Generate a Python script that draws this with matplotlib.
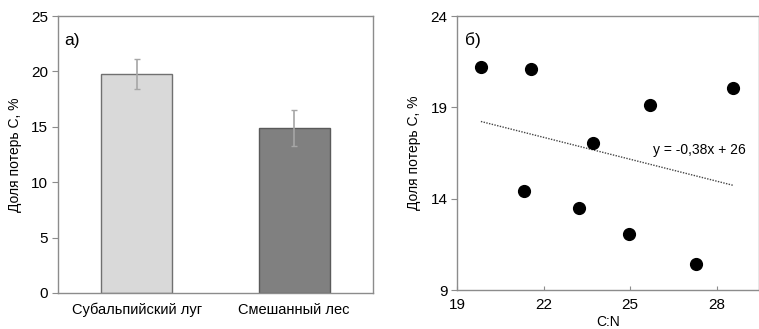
import numpy as np
import matplotlib
matplotlib.use("Agg")
import matplotlib.pyplot as plt

plt.rcParams['font.family'] = ['Liberation Sans', 'DejaVu Sans']

# Panel a data
categories = ["Субальпийский луг", "Смешанный лес"]
loss_mean = [19.75, 14.9]
loss_err = [1.35, 1.6]
bar_colors = ["#d9d9d9", "#808080"]

# Panel b data
cn_ratio = [19.82, 21.57, 28.58, 25.70, 23.72, 21.33, 23.24, 24.95, 27.28]
loss_pct = [21.23, 21.08, 20.04, 19.13, 17.03, 14.42, 13.51, 12.05, 10.45]
equation = "y = -0,38x + 26"

W, H = 759, 329
fig = plt.figure(figsize=(W / 100, H / 100), dpi=100)

spine_c = "#8c8c8c"
tick_fs = 11

# ---- Panel a ----
ax1 = fig.add_axes([58 / W, 1 - 293 / H, 315 / W, 277 / H])
x = np.arange(len(categories))
ax1.bar(x, loss_mean, width=0.45, color=bar_colors,
        edgecolor=["#707070", "#5a5a5a"], linewidth=1.0, zorder=2)
ax1.errorbar(x, loss_mean, yerr=loss_err, fmt='none', ecolor="#a6a6a6",
             elinewidth=1.2, capsize=2.5, capthick=1.0, zorder=3)
ax1.set_xlim(-0.5, 1.5)
ax1.set_ylim(0, 25)
ax1.set_yticks([0, 5, 10, 15, 20, 25])
ax1.set_xticks(x)
ax1.set_xticklabels(categories)
ax1.tick_params(axis='x', length=0, pad=7, labelsize=10.5, colors="#000000")
ax1.tick_params(axis='y', length=4, direction='out', color=spine_c,
                labelsize=tick_fs, pad=3)
ax1.set_ylabel("Доля потерь С, %", fontsize=10, labelpad=7)
for s in ax1.spines.values():
    s.set_color(spine_c)
    s.set_linewidth(1.0)
ax1.text(0.02, 0.94, "а)", transform=ax1.transAxes, fontsize=12.5,
         va='top', ha='left')

# ---- Panel b ----
ax2 = fig.add_axes([457.3 / W, 1 - 290 / H, (758.5 - 457.3) / W, 274 / H])
ax2.scatter(cn_ratio, loss_pct, s=72, color="black", zorder=3)
coef = np.polyfit(cn_ratio, loss_pct, 1)
xl = np.array([min(cn_ratio), max(cn_ratio)])
ax2.plot(xl, np.polyval(coef, xl), linestyle=(0, (1, 1)), color="#444444",
         linewidth=1.0, zorder=2)
ax2.text(25.8, 16.67, equation, fontsize=10, va='center', ha='left')
ax2.set_xlim(19, 19 + (758.5 - 457.3) / 28.8)
ax2.set_ylim(9, 24)
ax2.set_xticks([19, 22, 25, 28])
ax2.set_yticks([9, 14, 19, 24])
ax2.tick_params(axis='x', length=3, direction='in', color=spine_c,
                labelsize=tick_fs, pad=6)
ax2.tick_params(axis='y', length=4, direction='out', color=spine_c,
                labelsize=tick_fs, pad=3)
ax2.set_xlabel("C:N", fontsize=10, labelpad=2)
ax2.set_ylabel("Доля потерь С, %", fontsize=10, labelpad=7)
for s in ax2.spines.values():
    s.set_color(spine_c)
    s.set_linewidth(1.0)
ax2.text(0.025, 0.94, "б)", transform=ax2.transAxes, fontsize=12.5,
         va='top', ha='left')

fig.savefig("out.png", dpi=100)
